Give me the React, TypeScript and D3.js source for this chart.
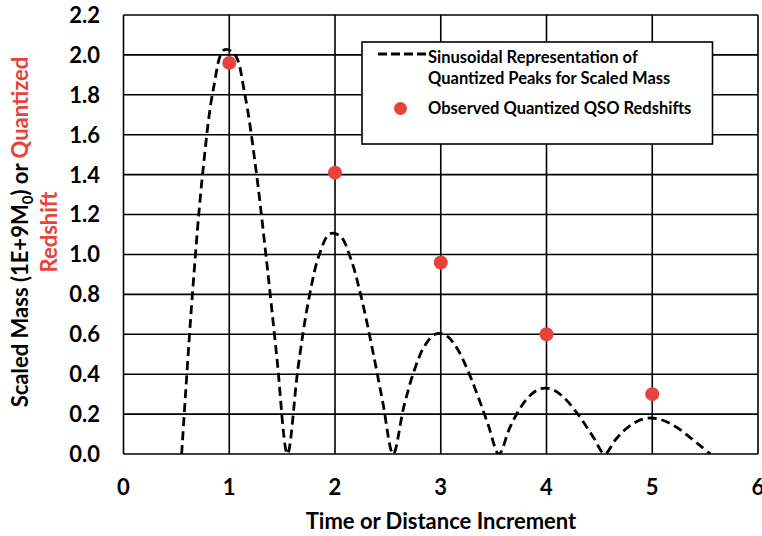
import React from "react";
import * as d3 from "d3";

const curveX = [0.55,0.65,0.75,0.85,0.95,1.05,1.15,1.25,1.35,1.45,1.55,1.65,1.75,1.85,1.95,2.05,2.15,2.25,2.35,2.45,2.55,2.65,2.75,2.85,2.95,3.05,3.15,3.25,3.35,3.45,3.55,3.65,3.75,3.85,3.95,4.05,4.15,4.25,4.35,4.45,4.55,4.65,4.75,4.85,4.95,5.05,5.15,5.25,5.35,5.45,5.55];
const curveY = [0,0.789,1.414,1.830,2.025,2.004,1.794,1.436,0.982,0.486,0,0.430,0.770,0.997,1.103,1.092,0.978,0.782,0.535,0.265,0,0.235,0.420,0.544,0.601,0.595,0.533,0.426,0.292,0.144,0,0.128,0.229,0.296,0.328,0.324,0.290,0.232,0.159,0.078,0,0.070,0.125,0.162,0.179,0.177,0.158,0.127,0.086,0.043,0];

const obsX = [1, 2, 3, 4, 5];
const obsY = [1.96, 1.41, 0.96, 0.6, 0.3];

const xTicks = [0, 1, 2, 3, 4, 5, 6];
const yTicks = [0, 0.2, 0.4, 0.6, 0.8, 1.0, 1.2, 1.4, 1.6, 1.8, 2.0, 2.2];

const legendLine = ["Sinusoidal Representation of", "Quantized Peaks for Scaled Mass"];
const legendDots = "Observed Quantized QSO Redshifts";

const W = 762, H = 536;
const L = 123.5, R = 758, T = 15, B = 454;
const RED = "#E8433A";
const FONT = "Lato, 'Open Sans', sans-serif";

export default function App() {
  const x = d3.scaleLinear().domain([0, 6]).range([L, R]);
  const y = d3.scaleLinear().domain([0, 2.2]).range([B, T]);
  const pts: [number, number][] = curveX.map((v, i) => [v, curveY[i]]);
  const line = d3
    .line<[number, number]>()
    .x((d) => x(d[0]))
    .y((d) => y(d[1]))
    .curve(d3.curveCatmullRom.alpha(0.5));

  return (
    <svg width={W} height={H} style={{ position: "absolute", left: 0, top: 0, background: "#fff" }} fontFamily={FONT}>
      <defs>
        <clipPath id="plot">
          <rect x={L} y={T} width={R - L} height={B - T} />
        </clipPath>
      </defs>
      {/* gridlines */}
      {yTicks.map((t) => (
        <line key={"h" + t} x1={L} x2={R} y1={y(t)} y2={y(t)} stroke="#000" strokeWidth={1.6} />
      ))}
      {xTicks.map((t) => (
        <line key={"v" + t} x1={x(t)} x2={x(t)} y1={T} y2={B} stroke="#000" strokeWidth={1.6} />
      ))}
      {/* curve */}
      <path
        d={line(pts) || ""}
        fill="none"
        stroke="#000"
        strokeWidth={2.8}
        strokeDasharray="9,5"
        clipPath="url(#plot)"
      />
      {/* observed points */}
      {obsX.map((v, i) => (
        <circle key={"o" + v} cx={x(v)} cy={y(obsY[i])} r={7} fill={RED} />
      ))}
      {/* y tick labels */}
      {yTicks.map((t) => (
        <text key={"yl" + t} x={100} y={y(t)} dy="0.36em" textAnchor="end" fontSize={22} fontWeight={700}>
          {t.toFixed(1)}
        </text>
      ))}
      {/* x tick labels */}
      {xTicks.map((t) => (
        <text key={"xl" + t} x={x(t)} y={495} textAnchor="middle" fontSize={22} fontWeight={700}>
          {t}
        </text>
      ))}
      {/* x title */}
      <text x={441} y={529} textAnchor="middle" fontSize={22} fontWeight={700}>
        Time or Distance Increment
      </text>
      {/* y title */}
      <g transform="translate(28,232) rotate(-90)">
        <text x={0} y={0} textAnchor="middle" fontSize={22} fontWeight={700}>
          <tspan>Scaled Mass (1E+9M</tspan>
          <tspan fontSize={15} dy={5}>0</tspan>
          <tspan dy={-5}>) or </tspan>
          <tspan fill={RED}>Quantized</tspan>
        </text>
      </g>
      <g transform="translate(57,232) rotate(-90)">
        <text x={0} y={0} textAnchor="middle" fontSize={22} fontWeight={700} fill={RED}>
          Redshift
        </text>
      </g>
      {/* legend */}
      <rect x={362} y={42} width={350.5} height={102} fill="#fff" stroke="#000" strokeWidth={1.6} />
      <line x1={378} x2={426} y1={54} y2={54} stroke="#000" strokeWidth={2.8} strokeDasharray="9,4" />
      <text x={428} y={62.5} fontSize={16.5} fontWeight={700}>{legendLine[0]}</text>
      <text x={428} y={84} fontSize={16.5} fontWeight={700}>{legendLine[1]}</text>
      <circle cx={400.5} cy={108.5} r={6.5} fill={RED} />
      <text x={428} y={114} fontSize={16.5} fontWeight={700}>{legendDots}</text>
    </svg>
  );
}
